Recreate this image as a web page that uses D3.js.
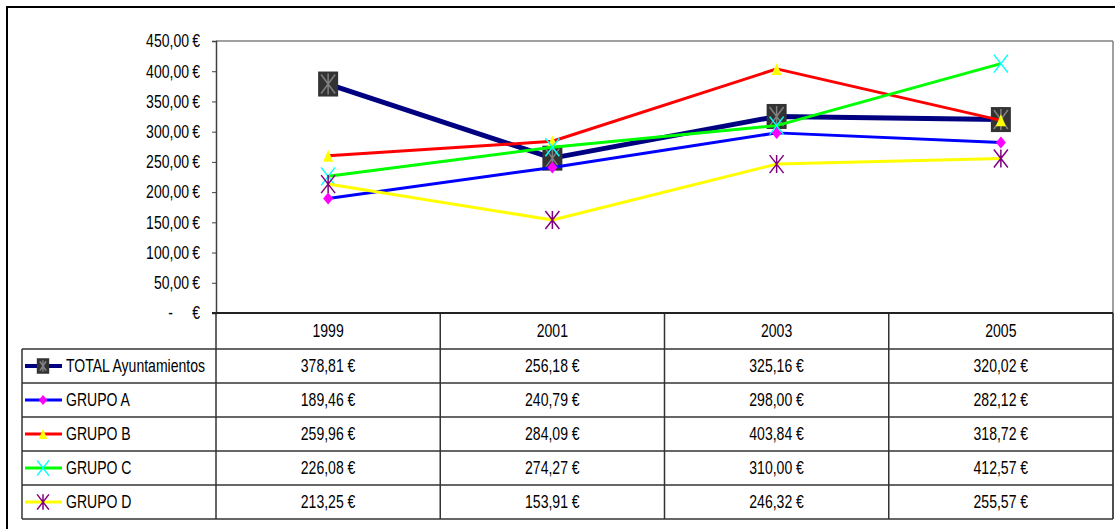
<!DOCTYPE html>
<html>
<head>
<meta charset="utf-8">
<script src="https://cdn.jsdelivr.net/npm/d3@7"></script>
<style>
  body { margin: 0; background: #fff; }
  text { font-family: "Liberation Sans", Arial, sans-serif; font-size: 18px; fill: #000; }
</style>
</head>
<body>
<div id="chart"></div>
<script>
// Data
const years = ["1999", "2001", "2003", "2005"];
const seriesNames = ["TOTAL Ayuntamientos", "GRUPO A", "GRUPO B", "GRUPO C", "GRUPO D"];
const totalValues = [378.81, 256.18, 325.16, 320.02];
const grupoA = [189.46, 240.79, 298.00, 282.12];
const grupoB = [259.96, 284.09, 403.84, 318.72];
const grupoC = [226.08, 274.27, 310.00, 412.57];
const grupoD = [213.25, 153.91, 246.32, 255.57];
const yTicks = [0, 50, 100, 150, 200, 250, 300, 350, 400, 450];

const series = [
  { name: seriesNames[0], values: totalValues, color: "#000080", width: 5, marker: "box" },
  { name: seriesNames[1], values: grupoA, color: "#0000ff", width: 3, marker: "diamond" },
  { name: seriesNames[2], values: grupoB, color: "#ff0000", width: 3, marker: "triangle" },
  { name: seriesNames[3], values: grupoC, color: "#00ff00", width: 3, marker: "x" },
  { name: seriesNames[4], values: grupoD, color: "#ffff00", width: 3, marker: "star" }
];

// Layout
const W = 1115, H = 529;
const plot = { left: 216, right: 1113, top: 41, bottom: 313 };
const table = { left: 22, headerBottom: 349, bottom: 519 };
const squeeze = 0.78; // no Arial Narrow here, so squash Liberation Sans

const svg = d3.select("#chart").append("svg")
  .attr("width", W)
  .attr("height", H);

// place a narrow text at (x, y)
function narrowText(parent, x, y, anchor, str) {
  return parent.append("text")
    .attr("transform", `translate(${x},${y}) scale(${squeeze},1)`)
    .attr("dy", "0.35em")
    .attr("text-anchor", anchor)
    .text(str);
}

// outer frame
svg.append("rect")
  .attr("x", 7).attr("y", 7)
  .attr("width", W + 10).attr("height", H + 10)
  .attr("fill", "none")
  .attr("stroke", "#000")
  .attr("stroke-width", 2);

// Scales
const x = d3.scaleBand().domain(years).range([plot.left, plot.right]);
const y = d3.scaleLinear().domain([0, 450]).range([plot.bottom, plot.top]);
const row = d3.scaleBand().domain(seriesNames).range([table.headerBottom, table.bottom]);

const fmt = v => {
  const s = d3.format(",.2f")(v);
  return s.replace(/,/g, "#").replace(".", ",").replace(/#/g, ".");
};

// plot frame (top + right in gray)
svg.append("line")
  .attr("x1", plot.left).attr("x2", plot.right)
  .attr("y1", plot.top).attr("y2", plot.top)
  .attr("stroke", "#808080").attr("stroke-width", 1.5);
svg.append("line")
  .attr("x1", plot.right).attr("x2", plot.right)
  .attr("y1", plot.top).attr("y2", table.bottom)
  .attr("stroke", "#808080").attr("stroke-width", 1.5);

// Y axis
const yAxis = svg.append("g")
  .attr("transform", `translate(${plot.left},0)`)
  .call(d3.axisLeft(y).tickValues(yTicks).tickSize(4).tickFormat(""));
yAxis.select(".domain").attr("stroke", "#404040").attr("stroke-width", 1.5);
yAxis.selectAll(".tick line").attr("stroke", "#404040");

// y tick labels, accounting style
const yLab = svg.append("g");
yTicks.forEach(t => {
  narrowText(yLab, 200, y(t), "end", "€");
  if (t === 0) narrowText(yLab, 173, y(t), "end", "-");
  else narrowText(yLab, 189, y(t), "end", fmt(t));
});

// Table grid
const grid = svg.append("g").attr("stroke", "#333").attr("stroke-width", 1.5);
seriesNames.forEach(n => {
  grid.append("line")
    .attr("x1", table.left).attr("x2", plot.right)
    .attr("y1", row(n)).attr("y2", row(n));
});
grid.append("line")
  .attr("x1", table.left).attr("x2", plot.right)
  .attr("y1", table.bottom).attr("y2", table.bottom);
grid.append("line")
  .attr("x1", table.left).attr("x2", table.left)
  .attr("y1", table.headerBottom).attr("y2", table.bottom);
years.forEach(yr => {
  grid.append("line")
    .attr("x1", x(yr) + x.bandwidth()).attr("x2", x(yr) + x.bandwidth())
    .attr("y1", plot.bottom).attr("y2", table.bottom);
});
grid.append("line")
  .attr("x1", plot.left).attr("x2", plot.left)
  .attr("y1", plot.bottom).attr("y2", table.bottom);

// X axis line
svg.append("line")
  .attr("x1", plot.left - 4).attr("x2", plot.right)
  .attr("y1", plot.bottom).attr("y2", plot.bottom)
  .attr("stroke", "#222").attr("stroke-width", 2);

// Header: years
const head = svg.append("g");
years.forEach(yr => {
  narrowText(head, x(yr) + x.bandwidth() / 2, (plot.bottom + table.headerBottom) / 2, "middle", yr);
});

// Table values
const cells = svg.append("g");
series.forEach(s => {
  s.values.forEach((v, i) => {
    narrowText(cells, x(years[i]) + x.bandwidth() / 2, row(s.name) + row.bandwidth() / 2, "middle", fmt(v) + " €");
  });
});

// Marker drawing
function drawMarker(g, type, cx, cy, k) {
  k = k || 1;
  if (type === "box") {
    const w = 20 * k, h = 25 * k;
    g.append("rect")
      .attr("x", cx - w / 2).attr("y", cy - h / 2)
      .attr("width", w).attr("height", h)
      .attr("fill", "#333333");
    g.append("path")
      .attr("d", `M${cx},${cy - h / 2 + 2}V${cy + h / 2 - 2}M${cx - w / 2 + 3},${cy - h / 2 + 3}L${cx + w / 2 - 3},${cy + h / 2 - 3}M${cx + w / 2 - 3},${cy - h / 2 + 3}L${cx - w / 2 + 3},${cy + h / 2 - 3}`)
      .attr("stroke", "#808080").attr("stroke-width", 1.5).attr("fill", "none");
  } else if (type === "diamond") {
    const w = 5 * k, h = 6 * k;
    g.append("path")
      .attr("d", `M${cx},${cy - h}L${cx + w},${cy}L${cx},${cy + h}L${cx - w},${cy}Z`)
      .attr("fill", "#ff00ff");
  } else if (type === "triangle") {
    const w = 5 * k, h = 6 * k;
    g.append("path")
      .attr("d", `M${cx},${cy - h}L${cx + w},${cy + h}L${cx - w},${cy + h}Z`)
      .attr("fill", "#ffff00");
  } else if (type === "x") {
    const w = 7 * k, h = 9 * k;
    g.append("path")
      .attr("d", `M${cx - w},${cy - h}L${cx + w},${cy + h}M${cx + w},${cy - h}L${cx - w},${cy + h}`)
      .attr("stroke", "#00ffff").attr("stroke-width", 1.5).attr("fill", "none");
  } else if (type === "star") {
    const w = 7 * k, h = 9 * k;
    g.append("path")
      .attr("d", `M${cx},${cy - h}V${cy + h}M${cx - w},${cy - h}L${cx + w},${cy + h}M${cx + w},${cy - h}L${cx - w},${cy + h}`)
      .attr("stroke", "#800080").attr("stroke-width", 1.5).attr("fill", "none");
  }
}

// Lines
const line = d3.line()
  .x((d, i) => x(years[i]) + x.bandwidth() / 2)
  .y(d => y(d));

const plotG = svg.append("g");
series.forEach(s => {
  const g = plotG.append("g");
  g.append("path")
    .datum(s.values)
    .attr("d", line)
    .attr("fill", "none")
    .attr("stroke", s.color)
    .attr("stroke-width", s.width)
    .attr("stroke-linejoin", "round");
  s.values.forEach((v, i) => {
    drawMarker(g, s.marker, x(years[i]) + x.bandwidth() / 2, y(v), 1);
  });
});

// Legend in table
series.forEach(s => {
  const cy = row(s.name) + row.bandwidth() / 2;
  const g = svg.append("g");
  g.append("line")
    .attr("x1", 25).attr("x2", 62)
    .attr("y1", cy).attr("y2", cy)
    .attr("stroke", s.color)
    .attr("stroke-width", s.width === 5 ? 4 : 3);
  drawMarker(g, s.marker, 43, cy, s.marker === "box" ? 0.62 : 0.85);
  narrowText(g, 66, cy, "start", s.name);
});
</script>
</body>
</html>
